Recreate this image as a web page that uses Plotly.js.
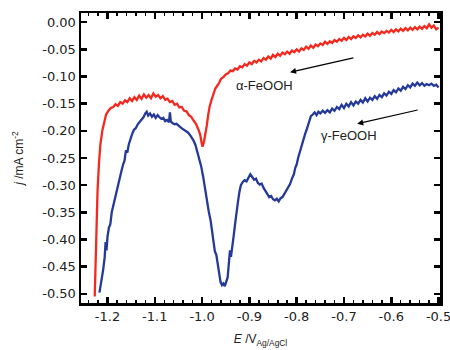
<!DOCTYPE html>
<html><head><meta charset="utf-8">
<script src="https://cdn.plot.ly/plotly-3.0.1.min.js"></script>
<style>html,body{margin:0;padding:0;background:#fff}#c{width:450px;height:350px}</style>
</head><body><div id="c"></div>
<script>
const alphaE = [-1.227,-1.225,-1.223,-1.221,-1.218,-1.215,-1.211,-1.207,-1.203,-1.198,-1.193,-1.188,-1.183,-1.178,-1.173,-1.168,-1.163,-1.158,-1.153,-1.148,-1.143,-1.138,-1.133,-1.128,-1.123,-1.118,-1.113,-1.108,-1.103,-1.098,-1.093,-1.088,-1.083,-1.078,-1.073,-1.068,-1.063,-1.058,-1.053,-1.048,-1.043,-1.038,-1.033,-1.028,-1.023,-1.018,-1.013,-1.008,-1.004,-1.001,-0.999,-0.996,-0.993,-0.990,-0.987,-0.984,-0.980,-0.976,-0.972,-0.968,-0.964,-0.960,-0.955,-0.950,-0.945,-0.940,-0.935,-0.930,-0.925,-0.920,-0.915,-0.910,-0.905,-0.900,-0.895,-0.890,-0.885,-0.880,-0.875,-0.870,-0.865,-0.860,-0.855,-0.850,-0.845,-0.840,-0.835,-0.830,-0.825,-0.820,-0.815,-0.810,-0.805,-0.800,-0.795,-0.790,-0.785,-0.780,-0.775,-0.770,-0.765,-0.760,-0.755,-0.750,-0.745,-0.740,-0.735,-0.730,-0.725,-0.720,-0.715,-0.710,-0.705,-0.700,-0.695,-0.690,-0.685,-0.680,-0.675,-0.670,-0.665,-0.660,-0.655,-0.650,-0.645,-0.640,-0.635,-0.630,-0.625,-0.620,-0.615,-0.610,-0.605,-0.600,-0.595,-0.590,-0.585,-0.580,-0.575,-0.570,-0.565,-0.560,-0.555,-0.550,-0.545,-0.540,-0.535,-0.530,-0.525,-0.520,-0.515,-0.510,-0.505,-0.500];
const alphaJ = [-0.505,-0.44,-0.37,-0.31,-0.26,-0.225,-0.200,-0.182,-0.170,-0.163,-0.158,-0.156,-0.151,-0.154,-0.147,-0.150,-0.144,-0.147,-0.140,-0.145,-0.138,-0.143,-0.135,-0.141,-0.133,-0.139,-0.134,-0.140,-0.131,-0.137,-0.134,-0.140,-0.136,-0.143,-0.141,-0.147,-0.145,-0.152,-0.150,-0.157,-0.156,-0.163,-0.164,-0.171,-0.174,-0.181,-0.187,-0.197,-0.207,-0.222,-0.229,-0.220,-0.208,-0.190,-0.170,-0.155,-0.143,-0.134,-0.122,-0.117,-0.112,-0.104,-0.101,-0.096,-0.094,-0.089,-0.090,-0.085,-0.087,-0.081,-0.083,-0.077,-0.080,-0.074,-0.077,-0.071,-0.074,-0.069,-0.072,-0.066,-0.069,-0.063,-0.067,-0.060,-0.064,-0.058,-0.062,-0.056,-0.059,-0.054,-0.058,-0.052,-0.055,-0.050,-0.054,-0.048,-0.051,-0.045,-0.049,-0.043,-0.047,-0.041,-0.044,-0.039,-0.042,-0.036,-0.040,-0.035,-0.038,-0.033,-0.036,-0.031,-0.034,-0.029,-0.033,-0.027,-0.031,-0.026,-0.029,-0.024,-0.028,-0.023,-0.026,-0.021,-0.025,-0.020,-0.023,-0.018,-0.022,-0.017,-0.020,-0.016,-0.019,-0.014,-0.018,-0.013,-0.017,-0.012,-0.016,-0.011,-0.015,-0.010,-0.014,-0.009,-0.013,-0.008,-0.012,-0.007,-0.011,-0.004,-0.010,-0.006,-0.013,-0.010];
const gammaE = [-1.217,-1.213,-1.209,-1.206,-1.204,-1.202,-1.200,-1.197,-1.194,-1.191,-1.188,-1.185,-1.182,-1.179,-1.176,-1.173,-1.170,-1.167,-1.164,-1.161,-1.158,-1.155,-1.152,-1.148,-1.144,-1.140,-1.136,-1.132,-1.128,-1.124,-1.120,-1.117,-1.114,-1.110,-1.106,-1.102,-1.098,-1.094,-1.090,-1.086,-1.082,-1.078,-1.074,-1.070,-1.068,-1.066,-1.062,-1.058,-1.054,-1.050,-1.046,-1.042,-1.038,-1.034,-1.030,-1.026,-1.022,-1.018,-1.014,-1.010,-1.006,-1.002,-0.998,-0.994,-0.990,-0.986,-0.982,-0.979,-0.976,-0.973,-0.970,-0.967,-0.964,-0.961,-0.958,-0.955,-0.952,-0.949,-0.946,-0.943,-0.941,-0.939,-0.936,-0.933,-0.930,-0.927,-0.924,-0.921,-0.918,-0.914,-0.910,-0.906,-0.902,-0.898,-0.894,-0.890,-0.886,-0.882,-0.878,-0.874,-0.870,-0.866,-0.862,-0.858,-0.854,-0.850,-0.846,-0.842,-0.838,-0.834,-0.830,-0.826,-0.822,-0.818,-0.814,-0.810,-0.806,-0.803,-0.800,-0.797,-0.794,-0.791,-0.788,-0.785,-0.782,-0.779,-0.776,-0.773,-0.770,-0.766,-0.762,-0.758,-0.754,-0.750,-0.745,-0.740,-0.735,-0.730,-0.725,-0.720,-0.715,-0.710,-0.705,-0.700,-0.695,-0.690,-0.685,-0.680,-0.675,-0.670,-0.665,-0.660,-0.655,-0.650,-0.645,-0.640,-0.635,-0.630,-0.625,-0.620,-0.615,-0.610,-0.605,-0.600,-0.595,-0.590,-0.585,-0.580,-0.575,-0.570,-0.565,-0.560,-0.555,-0.550,-0.545,-0.540,-0.535,-0.530,-0.525,-0.520,-0.515,-0.510,-0.505,-0.500];
const gammaJ = [-0.498,-0.480,-0.455,-0.433,-0.405,-0.420,-0.395,-0.378,-0.372,-0.350,-0.338,-0.330,-0.318,-0.304,-0.296,-0.282,-0.272,-0.262,-0.255,-0.236,-0.240,-0.225,-0.215,-0.206,-0.198,-0.195,-0.188,-0.184,-0.178,-0.175,-0.168,-0.165,-0.172,-0.168,-0.174,-0.170,-0.176,-0.171,-0.175,-0.178,-0.176,-0.182,-0.180,-0.184,-0.166,-0.183,-0.186,-0.188,-0.187,-0.191,-0.193,-0.196,-0.198,-0.200,-0.203,-0.207,-0.212,-0.218,-0.226,-0.238,-0.250,-0.265,-0.283,-0.305,-0.330,-0.348,-0.365,-0.385,-0.405,-0.422,-0.428,-0.448,-0.468,-0.478,-0.484,-0.481,-0.486,-0.479,-0.470,-0.440,-0.420,-0.432,-0.405,-0.392,-0.370,-0.345,-0.330,-0.312,-0.300,-0.294,-0.291,-0.293,-0.286,-0.280,-0.285,-0.290,-0.288,-0.296,-0.299,-0.297,-0.305,-0.311,-0.316,-0.322,-0.320,-0.326,-0.328,-0.325,-0.330,-0.324,-0.322,-0.316,-0.312,-0.304,-0.298,-0.288,-0.280,-0.268,-0.262,-0.250,-0.240,-0.230,-0.222,-0.215,-0.205,-0.198,-0.190,-0.180,-0.173,-0.170,-0.166,-0.171,-0.165,-0.168,-0.163,-0.167,-0.162,-0.166,-0.159,-0.163,-0.156,-0.160,-0.152,-0.158,-0.150,-0.155,-0.147,-0.153,-0.146,-0.150,-0.143,-0.148,-0.140,-0.146,-0.139,-0.143,-0.136,-0.141,-0.134,-0.138,-0.131,-0.135,-0.128,-0.132,-0.125,-0.129,-0.122,-0.126,-0.119,-0.123,-0.116,-0.120,-0.113,-0.117,-0.111,-0.116,-0.112,-0.117,-0.114,-0.116,-0.113,-0.117,-0.115,-0.120];
const xTickVals = [-1.2,-1.1,-1.0,-0.9,-0.8,-0.7,-0.6,-0.5];
const xTickText = ["-1.2","-1.1","-1.0","-0.9","-0.8","-0.7","-0.6","-0.5"];
const yTickVals = [0,-0.05,-0.1,-0.15,-0.2,-0.25,-0.3,-0.35,-0.4,-0.45,-0.5];
const yTickText = ["0.00","-0.05","-0.10","-0.15","-0.20","-0.25","-0.30","-0.35","-0.40","-0.45","-0.50"];
const labels = ["α-FeOOH","γ-FeOOH"];

const F = "Liberation Sans, Arial, sans-serif";
const FT = "DejaVu Sans, sans-serif";
const traces = [
  {x: alphaE, y: alphaJ, mode: 'lines', line: {color: '#f5281e', width: 2.3}, name: labels[0]},
  {x: gammaE, y: gammaJ, mode: 'lines', line: {color: '#24399a', width: 2.3}, name: labels[1]}
];
const axCommon = {showgrid: false, zeroline: false, showline: true, linecolor: '#000', linewidth: 2.5, mirror: 'ticks', ticks: 'inside', ticklen: 6, tickwidth: 2.5, tickcolor: '#000', ticklabeloverflow: 'allow', tickfont: {family: FT, size: 13, color: '#222'}};
const layout = {
  width: 450, height: 350,
  margin: {l: 81, r: 10, t: 13, b: 47},
  showlegend: false,
  paper_bgcolor: '#fff', plot_bgcolor: '#fff',
  xaxis: Object.assign({}, axCommon, {range: [-1.256, -0.497], tickvals: xTickVals, ticktext: xTickText,
    minor: {dtick: 0.02, tick0: -1.2, ticks: 'inside', ticklen: 3, tickwidth: 1.5, tickcolor: '#000'},
    title: {text: '<i>E</i> /V<sub>Ag/AgCl</sub>', font: {family: F, size: 12, color: '#222'}, standoff: 12}}),
  yaxis: Object.assign({}, axCommon, {range: [-0.517, 0.017], tickvals: yTickVals, ticktext: yTickText,
    title: {text: '<i>j</i> /mA cm<sup>-2</sup>', font: {family: F, size: 12, color: '#222'}, standoff: 16}}),
  annotations: [
    {x: -0.814, y: -0.092, ax: -0.677, ay: -0.065, xref: 'x', yref: 'y', axref: 'x', ayref: 'y', showarrow: true, arrowhead: 2, arrowsize: 1, arrowwidth: 1.2, arrowcolor: '#000', text: ''},
    {x: -0.672, y: -0.187, ax: -0.541, ay: -0.161, xref: 'x', yref: 'y', axref: 'x', ayref: 'y', showarrow: true, arrowhead: 2, arrowsize: 1, arrowwidth: 1.2, arrowcolor: '#000', text: ''},
    {x: -0.867, y: -0.117, xref: 'x', yref: 'y', showarrow: false, text: labels[0], font: {family: F, size: 13, color: '#222'}},
    {x: -0.690, y: -0.209, xref: 'x', yref: 'y', showarrow: false, text: labels[1], font: {family: F, size: 13, color: '#222'}}
  ]
};
Plotly.newPlot('c', traces, layout, {displayModeBar: false, staticPlot: true});
</script>
</body></html>
